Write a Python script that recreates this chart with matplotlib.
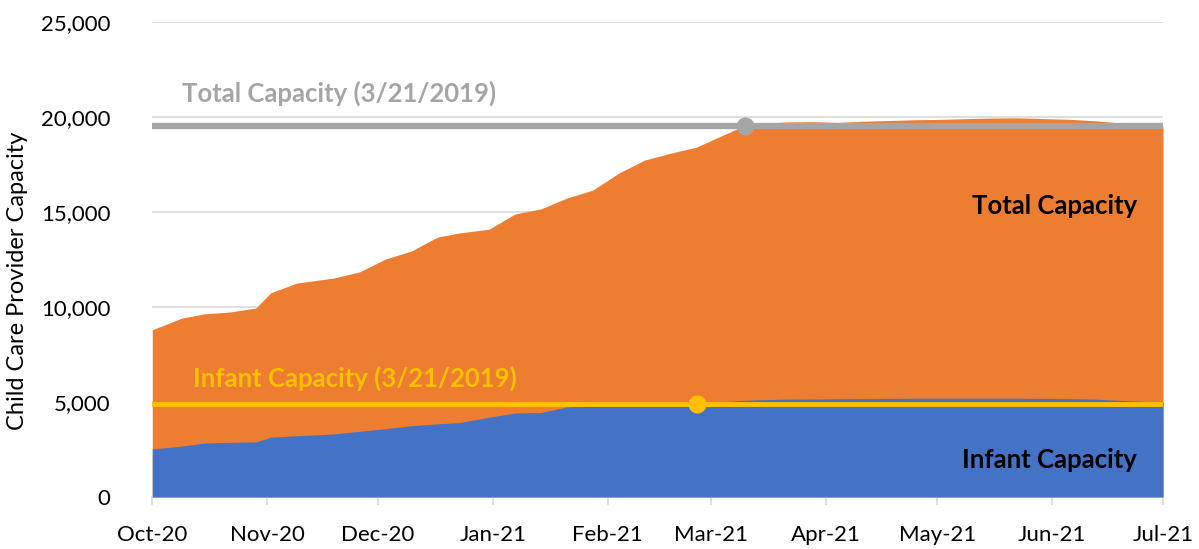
import numpy as np
import pandas as pd
import matplotlib
matplotlib.use('Agg')
import matplotlib.pyplot as plt
import matplotlib.dates as mdates
from matplotlib.ticker import FuncFormatter

dates = pd.to_datetime([
    '2020-10-01', '2020-10-09', '2020-10-15', '2020-10-22', '2020-10-29',
    '2020-11-02', '2020-11-09', '2020-11-19', '2020-11-26', '2020-12-03',
    '2020-12-10', '2020-12-17', '2020-12-23', '2020-12-31', '2021-01-07',
    '2021-01-14', '2021-01-21', '2021-01-28', '2021-02-04', '2021-02-11',
    '2021-02-18', '2021-02-25', '2021-03-03', '2021-03-09', '2021-03-14',
    '2021-03-21', '2021-03-28', '2021-04-04', '2021-04-11', '2021-04-18',
    '2021-04-25', '2021-05-02', '2021-05-09', '2021-05-16', '2021-05-23',
    '2021-05-30', '2021-06-06', '2021-06-13', '2021-06-20', '2021-06-27',
    '2021-07-01'])

total = [8800, 9420, 9640, 9740, 9950, 10750, 11260, 11530, 11850, 12530,
         12950, 13680, 13900, 14100, 14900, 15170, 15740, 16160, 17050, 17740,
         18100, 18420, 18950, 19470, 19680, 19740, 19760, 19720, 19780, 19820,
         19860, 19880, 19920, 19950, 19960, 19920, 19880, 19800, 19680, 19560,
         19520]

infant = [2530, 2680, 2840, 2880, 2900, 3150, 3220, 3320, 3460, 3600,
          3750, 3850, 3920, 4200, 4420, 4450, 4740, 4820, 4900, 4920,
          4940, 4960, 5000, 5080, 5120, 5150, 5160, 5170, 5180, 5190,
          5200, 5200, 5200, 5200, 5200, 5190, 5180, 5150, 5080, 5020,
          5000]

total_2019 = 19530
infant_2019 = 4900
total_marker_date = pd.Timestamp('2021-03-10')
infant_marker_date = pd.Timestamp('2021-02-25')

orange = '#ED7D31'
blue = '#4472C4'
grey = '#A5A5A5'
yellow = '#FFC000'

plt.rcParams['font.family'] = ['Lato', 'DejaVu Sans']

fig = plt.figure(figsize=(11.99, 5.49), dpi=100)
ax = fig.add_axes([0.127, 0.0947, 0.843, 0.865])

ax.fill_between(dates, 0, total, color=orange, lw=0, zorder=2)
ax.fill_between(dates, 0, infant, color=blue, lw=0, zorder=3)

ax.plot([dates[0], dates[-1]], [total_2019, total_2019], color=grey, lw=4.5,
        solid_capstyle='round', zorder=4)
ax.plot([total_marker_date], [total_2019], 'o', color=grey, ms=12, zorder=5)
ax.plot([dates[0], dates[-1]], [infant_2019, infant_2019], color=yellow, lw=3.5,
        solid_capstyle='round', zorder=4)
ax.plot([infant_marker_date], [infant_2019], 'o', color=yellow, ms=12, zorder=5)

ax.text(pd.Timestamp('2020-10-09'), 21250, 'Total Capacity (3/21/2019)',
        color=grey, fontsize=18.5, fontweight='bold', va='center', ha='left')
ax.text(pd.Timestamp('2020-10-12'), 6250, 'Infant Capacity (3/21/2019)',
        color=yellow, fontsize=18.5, fontweight='bold', va='center', ha='left')
ax.text(pd.Timestamp('2021-06-24'), 15300, 'Total Capacity',
        color='black', fontsize=18.5, fontweight='bold', va='center', ha='right')
ax.text(pd.Timestamp('2021-06-24'), 1950, 'Infant Capacity',
        color='black', fontsize=18.5, fontweight='bold', va='center', ha='right')

ax.set_xlim(dates[0], dates[-1])
ax.set_ylim(0, 25000)
ax.set_yticks(np.arange(0, 25001, 5000))
ax.yaxis.set_major_formatter(FuncFormatter(lambda v, p: f'{int(v):,}'))
ax.xaxis.set_major_locator(mdates.MonthLocator())
ax.xaxis.set_major_formatter(mdates.DateFormatter('%b-%y'))

ax.grid(axis='y', color='#D9D9D9', lw=1.2, zorder=0)
ax.set_axisbelow(True)
for s in ['left', 'right', 'top']:
    ax.spines[s].set_visible(False)
ax.spines['bottom'].set_color('#D9D9D9')
ax.spines['bottom'].set_linewidth(1.2)
ax.tick_params(axis='y', length=0, labelsize=16, pad=30)
ax.tick_params(axis='x', length=6, color='#D9D9D9', width=1.2, labelsize=16, pad=14)

ax.set_ylabel('Child Care Provider Capacity', fontsize=17)
ax.yaxis.set_label_coords(-0.123, 0.455)

fig.savefig('out.png', dpi=100)
